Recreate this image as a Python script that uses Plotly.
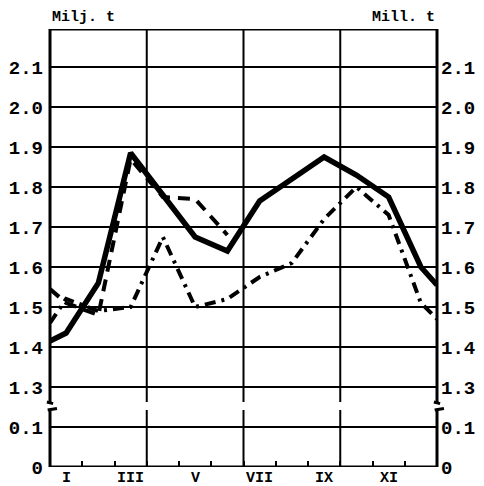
import plotly.graph_objects as go

# ---- data ----
# x positions: month centres 1..12, plus the left/right frame edges (0.5, 12.5)
x_pos = [0.5, 1, 2, 3, 4, 5, 6, 7, 8, 9, 10, 11, 12, 12.5]
solid = [1.415, 1.435, 1.56, 1.885, 1.78, 1.675, 1.64, 1.765, 1.82, 1.875, 1.83, 1.775, 1.60, 1.555]
dashdot = [1.46, 1.52, 1.49, 1.50, 1.675, 1.50, 1.52, 1.575, 1.61, 1.72, 1.80, 1.73, 1.51, 1.47]
x_dashed = [0.5, 1, 2, 3, 4, 5, 6]
dashed = [1.545, 1.51, 1.48, 1.87, 1.775, 1.77, 1.68]

month_ticks = [1, 3, 5, 7, 9, 11]
month_labels = ["I", "III", "V", "VII", "IX", "XI"]
y_ticks = [0, 0.1, 1.3, 1.4, 1.5, 1.6, 1.7, 1.8, 1.9, 2.0, 2.1]
y_labels = ["0", "0.1", "1.3", "1.4", "1.5", "1.6", "1.7", "1.8", "1.9", "2.0", "2.1"]
left_title = "Milj. t"
right_title = "Mill. t"

# broken axis: values from 1.3 upward are shifted down by 1.1
BREAK_SHIFT = 1.1


def brk(v):
    return v - BREAK_SHIFT if v >= 1.2 else v


Y_TOP = 1.095
GAP_LO, GAP_HI = 0.1425, 0.1625
FONT = "Liberation Mono"

fig = go.Figure()
fig.add_trace(go.Scatter(x=x_pos, y=[brk(v) for v in dashdot], mode="lines",
                         line=dict(color="black", width=4, dash="11px,6px,3px,6px"),
                         hoverinfo="skip"))
fig.add_trace(go.Scatter(x=x_dashed, y=[brk(v) for v in dashed], mode="lines",
                         line=dict(color="black", width=4, dash="12px,8px"),
                         hoverinfo="skip"))
fig.add_trace(go.Scatter(x=x_pos, y=[brk(v) for v in solid], mode="lines",
                         line=dict(color="black", width=5.5),
                         hoverinfo="skip"))
# carrier for the right-hand axis labels
fig.add_trace(go.Scatter(x=x_pos, y=[brk(v) for v in solid], mode="lines", yaxis="y2",
                         line=dict(color="rgba(0,0,0,0)", width=0), hoverinfo="skip"))

shapes = []
line_k = dict(color="black", width=3)
grid_k = dict(color="black", width=2)
# frame: bottom and top
shapes.append(dict(type="line", xref="paper", yref="y", x0=0, x1=1, y0=0, y1=0, line=line_k))
shapes.append(dict(type="line", xref="paper", yref="y", x0=0, x1=1, y0=Y_TOP, y1=Y_TOP, line=line_k))
# left/right axis lines with break gap and small break marks
for xp in (0, 1):
    shapes.append(dict(type="line", xref="paper", yref="y", x0=xp, x1=xp, y0=0, y1=GAP_LO, line=line_k))
    shapes.append(dict(type="line", xref="paper", yref="y", x0=xp, x1=xp, y0=GAP_HI, y1=Y_TOP, line=line_k))
    shapes.append(dict(type="line", xref="paper", yref="y", x0=xp - 0.006, x1=xp + 0.018,
                       y0=GAP_LO, y1=GAP_LO + 0.004, line=line_k))
    shapes.append(dict(type="line", xref="paper", yref="y", x0=xp - 0.008, x1=xp + 0.008,
                       y0=GAP_HI, y1=GAP_HI - 0.004, line=line_k))
# vertical grid lines at quarter boundaries, with the break gap
for xv in (3.5, 6.5, 9.5):
    shapes.append(dict(type="line", xref="x", yref="y", x0=xv, x1=xv, y0=0, y1=GAP_LO, line=grid_k))
    shapes.append(dict(type="line", xref="x", yref="y", x0=xv, x1=xv, y0=GAP_HI, y1=Y_TOP, line=grid_k))

tickfont = dict(family=FONT, size=19, color="black", weight="bold")
labfont = dict(family=FONT, size=15, color="black", weight="bold")

annotations = [
    dict(text=left_title, xref="paper", yref="paper", x=0, y=1, xanchor="left",
         yanchor="bottom", yshift=1, showarrow=False, font=labfont),
    dict(text=right_title, xref="paper", yref="paper", x=1, y=1, xanchor="right",
         yanchor="bottom", yshift=1, showarrow=False, font=labfont),
]
# month labels under the axis (as annotations so they sit close to the axis)
for xv, lab in zip(month_ticks, month_labels):
    annotations.append(dict(text=lab, xref="x", yref="y", x=xv, y=0, xanchor="center",
                            yanchor="top", yshift=-1, showarrow=False, font=labfont))

# the page body adds an 8px margin, so the figure is 8px smaller and margins shifted
fig.update_layout(
    width=476, height=478,
    margin=dict(l=42, r=47, t=21, b=19),
    paper_bgcolor="white", plot_bgcolor="white",
    showlegend=False,
    shapes=shapes,
    annotations=annotations,
    xaxis=dict(range=[0.5, 12.5], showticklabels=False,
               showgrid=False, zeroline=False, showline=False, ticks="", automargin=False,
               minor=dict(tick0=0.5, dtick=1, ticks="inside", ticklen=6, tickwidth=2,
                          tickcolor="black", showgrid=False)),
    yaxis=dict(range=[0, Y_TOP], tickvals=[brk(v) for v in y_ticks], ticktext=y_labels,
               showgrid=True, gridcolor="black", gridwidth=2, zeroline=False, automargin=False,
               showline=False, ticks="", tickfont=tickfont, ticklabelstandoff=6),
    yaxis2=dict(range=[0, Y_TOP], overlaying="y", side="right", automargin=False,
                tickvals=[brk(v) for v in y_ticks], ticktext=y_labels,
                showgrid=False, zeroline=False, showline=False, ticks="",
                tickfont=tickfont, ticklabelstandoff=3),
)

fig.write_html("out.html")
